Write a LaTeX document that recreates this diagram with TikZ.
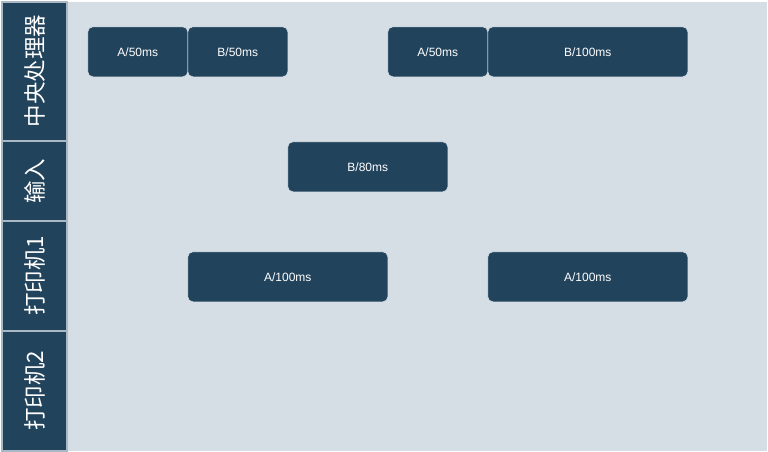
\documentclass[tikz,border=0pt]{standalone}
\usepackage{fontspec}
\setmainfont{Liberation Sans}
\newfontfamily\cjk{Noto Sans CJK SC}
\definecolor{navy}{HTML}{22435C}
\definecolor{panel}{HTML}{D6DEE5}
\definecolor{edge}{HTML}{A9B8C5}
\begin{document}
\begin{tikzpicture}[x=1pt,y=-1pt,
  lane/.style={draw=edge,line width=1.2pt,fill=navy},
  lanetext/.style={text=white,font=\cjk\fontsize{22.5}{22.5}\selectfont,rotate=90,inner sep=0pt},
  task/.style={draw=panel,line width=0.6pt,fill=navy,rounded corners=5pt,text=white,
    font=\fontsize{12}{12}\selectfont,inner sep=0pt,anchor=north west,minimum height=50pt}]
\useasboundingbox (0,0) rectangle (768,452);
\fill[white] (0,0) rectangle (768,452);
\fill[panel] (2,2) rectangle (767,451);
% lanes
\draw[lane] (2,2) rectangle (67,141);
\draw[lane] (2,141) rectangle (67,221);
\draw[lane] (2,221) rectangle (67,331);
\draw[lane] (2,331) rectangle (67,451);
\node[lanetext] (l1) at (34.5,71) {中央处理器};
\node[lanetext] (l2) at (34.5,181) {输入};
\node[lanetext] (l3) at (34.5,276) {打印机1};
\node[lanetext] (l4) at (34.5,391) {打印机2};
% tasks
\node[task,minimum width=100pt] (c1) at (87.5,26.5) {A/50ms};
\node[task,minimum width=100pt] (c2) at (187.5,26.5) {B/50ms};
\node[task,minimum width=100pt] (c3) at (387.5,26.5) {A/50ms};
\node[task,minimum width=200pt] (c4) at (487.5,26.5) {B/100ms};
\node[task,minimum width=160pt] (i1) at (287.5,141.5) {B/80ms};
\node[task,minimum width=200pt] (p1) at (187.5,251.5) {A/100ms};
\node[task,minimum width=200pt] (p2) at (487.5,251.5) {A/100ms};
\end{tikzpicture}
\end{document}
